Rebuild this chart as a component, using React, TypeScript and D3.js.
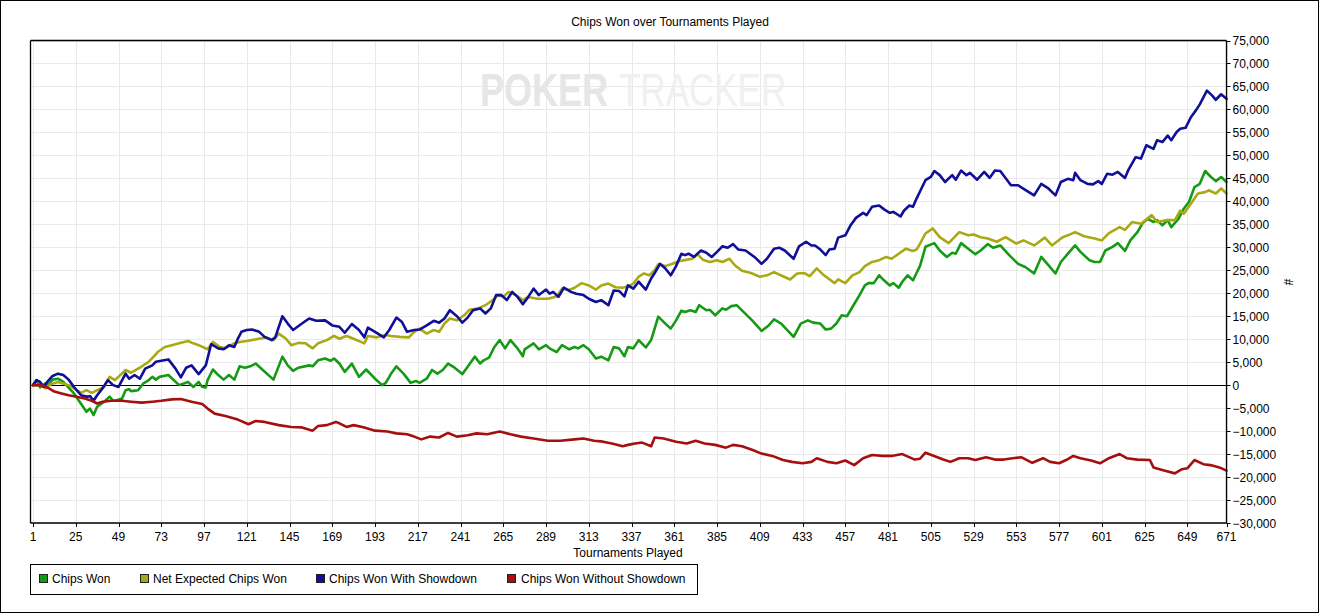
import React from "react";
import * as d3 from "d3";

type Pt = [number, number];

const seriesNames = ["Chips Won", "Net Expected Chips Won", "Chips Won With Showdown", "Chips Won Without Showdown"];
const seriesColors = ["#169a16", "#a9a915", "#0f0f99", "#a50f0f"];

const xTicks = [1, 25, 49, 73, 97, 121, 145, 169, 193, 217, 241, 265, 289, 313, 337, 361, 385, 409, 433, 457, 481, 505, 529, 553, 577, 601, 625, 649, 671];
const yTicks = d3.range(-30000, 75001, 5000);

const chipsWon: Pt[] = [
  [1,0],[3,1100],[5,-500],[8,400],[9,-200],[12,1200],[15,1400],[18,700],[24,-1800],[31,-5800],[33,-5100],[35,-6500],[37,-4700],[41,-3600],[44,-2500],[46,-3400],[48,-3300],[51,-2900],[53,-1100],[55,-900],[56,-1300],[60,-1100],[63,400],[66,1100],[68,1800],[70,1200],[72,1800],[77,2200],[83,0],[88,700],[91,-400],[94,700],[96,-400],[98,-500],[99,1100],[102,3400],[105,2200],[108,1200],[111,2200],[114,1200],[117,4100],[120,3800],[123,4100],[126,4700],[130,3300],[136,1200],[141,6200],[144,4300],[147,3100],[150,3800],[156,4300],[158,4100],[161,5400],
  [165,5800],[168,5300],[170,5800],[173,4700],[176,2900],[180,4700],[184,1800],[188,3400],[193,1400],[197,0],[199,500],[201,1800],[202,2500],[205,4100],[209,2500],[213,500],[216,900],[218,500],[222,1400],[225,3300],[228,2500],[231,3300],[234,4700],[237,4000],[242,2400],[245,4000],[249,6200],[252,4700],[254,5400],[257,6000],[260,8300],[263,9800],[266,8000],[269,9800],[273,8000],[276,6300],[277,7800],[282,9100],[285,7800],[289,8700],[291,8000],[295,7200],[298,8700],[302,7800],[305,8300],[307,8000],[310,8700],[313,7800],[317,5800],[320,6200],[324,5400],
  [327,8300],[330,8000],[333,6300],[335,8300],[338,8000],[341,9800],[345,8200],[348,9800],[352,14900],[356,13400],[359,12300],[362,14100],[365,16200],[367,15900],[370,16300],[373,15900],[375,17400],[379,16300],[381,16400],[384,15200],[388,16700],[390,16400],[393,17200],[396,17400],[400,15900],[405,14000],[410,11800],[414,13000],[417,14300],[421,13400],[428,10500],[432,13400],[436,14100],[439,13600],[443,13400],[446,12100],[449,12300],[452,13400],[455,15200],[458,15000],[461,17000],[465,19600],[468,21700],[470,22200],[473,22200],[476,23900],[479,22700],[482,21700],[484,22200],[487,21200],[489,22500],[492,23900],[495,22800],[497,24400],[499,26000],
  [502,30100],[507,30900],[510,29300],[514,27900],[517,28800],[519,28600],[522,30900],[526,29700],[530,28500],[533,29300],[537,30700],[540,29900],[544,30400],[549,28300],[554,26400],[558,25700],[563,24300],[567,27900],[571,26100],[575,24300],[578,26800],[582,28600],[586,30400],[589,29000],[594,27200],[597,26800],[600,26800],[603,29300],[607,30100],[610,30900],[614,29200],[617,31500],[621,33300],[624,35300],[627,36200],[630,35500],[632,35900],[635,34800],[638,35900],[640,34400],[644,36200],[647,38400],[650,39900],[653,43100],[656,43800],[659,46600],[662,45400],[665,44400],[668,45300],[671,44200],
];

const netExpected: Pt[] = [
  [1,0],[4,0],[5,400],[8,-700],[11,200],[15,700],[21,0],[24,-700],[28,-1700],[31,-1100],[34,-1700],[37,-1100],[41,-400],[44,1800],[47,1100],[53,3300],[56,2700],[61,3800],[66,5100],[69,6300],[71,7200],[75,8300],[79,8700],[83,9100],[88,9600],[91,9100],[94,8700],[99,7800],[102,9400],[106,8300],[109,8000],[114,9100],[117,9400],[121,9600],[128,10100],[132,10400],[136,9800],[139,11200],[143,10100],[146,8700],[150,9200],[154,9100],[158,8000],[161,9100],
  [166,9800],[170,10700],[173,10100],[177,10700],[181,10100],[187,9100],[189,10700],[194,10400],[199,10900],[202,10700],[207,10500],[212,10400],[215,11600],[218,12300],[222,11200],[226,12000],[229,11600],[232,13400],[235,14500],[239,14100],[243,15200],[246,16400],[251,16700],[255,17400],[260,18800],[262,19600],[265,19200],[268,20300],[272,19600],[276,18500],[279,19200],[284,18800],[290,18800],[295,19300],[298,21000],[302,20700],[305,21200],[309,22200],[313,21700],[317,20800],[320,21700],[324,22100],
  [328,21300],[332,21200],[335,21500],[338,22100],[341,23600],[344,24300],[347,23900],[350,25000],[352,26300],[356,25900],[360,26400],[364,27000],[367,27200],[371,27500],[374,28500],[377,27300],[381,26800],[385,27200],[388,26800],[392,27500],[395,26100],[399,24900],[404,24400],[409,23600],[413,23900],[417,24600],[422,23700],[426,23000],[430,24300],[434,24400],[437,23700],[441,25400],[445,23900],[451,22200],[453,23000],[457,22200],[461,23900],[465,24600],[468,25900],[472,26800],[476,27200],[480,27900],[483,27500],[487,28600],[491,29700],[495,29200],[497,29500],
  [499,30800],[502,33000],[506,34100],[510,32200],[515,30900],[521,33300],[526,32600],[529,32800],[533,32200],[537,31900],[542,31200],[547,32200],[553,30800],[557,31500],[563,30400],[569,32100],[573,30400],[579,32200],[582,32600],[586,33300],[591,32400],[597,31900],[601,31500],[605,33100],[611,34400],[614,33800],[618,35500],[623,35100],[629,37000],[632,35500],[637,35900],[642,35900],[645,38000],[647,37300],[651,39500],[655,41700],[659,42000],[661,42400],[665,41700],[668,42800],[671,41700],
];

const withShowdown: Pt[] = [
  [1,0],[3,1100],[5,700],[7,-400],[9,700],[12,2000],[15,2500],[18,2200],[21,1200],[24,-400],[28,-2200],[31,-2500],[33,-2400],[35,-3400],[37,-2200],[40,-700],[43,1100],[46,0],[49,-400],[53,2500],[55,1400],[58,2200],[61,1400],[64,3600],[68,4300],[70,5100],[73,5300],[77,5600],[81,3600],[84,1700],[87,3800],[90,4300],[94,2400],[98,4300],[101,8900],[105,8000],[108,7800],[111,8700],[114,8300],[116,10100],[118,11600],[121,12000],[124,12100],[128,11600],[131,10500],[135,9800],[137,10400],[141,15000],[144,13400],[147,12000],[152,13400],[156,14500],[160,14000],
  [165,14100],[169,13000],[173,12700],[176,11400],[180,13300],[184,12000],[187,10400],[189,12500],[193,11600],[198,10400],[201,12000],[205,14700],[208,13800],[211,11600],[215,12000],[218,12100],[222,13000],[226,14000],[229,13600],[232,14500],[235,16300],[239,15000],[242,13600],[245,14700],[248,16300],[252,16700],[255,15600],[258,16700],[261,19600],[264,19600],[267,18500],[270,20300],[273,19200],[276,17600],[279,19200],[282,21000],[285,19600],[289,20800],[291,19900],[293,20300],[296,19200],[299,21200],[303,20300],[306,19900],[310,19600],[313,18800],[317,18100],[320,18500],[324,17400],
  [327,20600],[330,20500],[333,19300],[335,21700],[338,21000],[341,22500],[345,20800],[348,23200],[350,24400],[353,26400],[356,25400],[359,23900],[362,25900],[365,28600],[367,28300],[369,28600],[372,27900],[376,29300],[379,28800],[382,27900],[385,29000],[388,30200],[391,29900],[394,30700],[397,29500],[401,29300],[406,27900],[410,26400],[413,27500],[417,29700],[420,29900],[423,29300],[428,27500],[431,30200],[435,31200],[438,30400],[440,30400],[443,29500],[446,28300],[448,29500],[451,29700],[453,32100],[457,32600],[460,34800],[463,36400],[467,37500],[469,37000],[472,38800],[476,39100],[479,38200],[482,37500],[484,37700],[488,36700],[490,38000],[493,39100],[495,38800],[497,40600],[499,42200],
  [502,44600],[505,45300],[507,46600],[510,45700],[513,44200],[517,45700],[519,44700],[522,46700],[525,45700],[527,46200],[531,44700],[535,46400],[538,45100],[541,46700],[544,46600],[550,43500],[554,43500],[558,42500],[563,41300],[567,43800],[571,42800],[575,41300],[578,44200],[582,44900],[585,44600],[586,46200],[589,44600],[593,43800],[596,43700],[599,44400],[601,43800],[604,46000],[607,45800],[610,46400],[614,45100],[616,46900],[620,49600],[623,49300],[626,52200],[630,51400],[632,53300],[635,52900],[638,54300],[640,53300],[643,55100],[645,55800],[648,56000],[651,58300],[654,59900],[656,61100],[660,64100],[663,63000],[665,62100],[668,63300],[671,62300],
];

const withoutShowdown: Pt[] = [
  [1,0],[6,0],[9,-500],[13,-1400],[17,-1800],[21,-2200],[24,-2400],[30,-2900],[34,-3400],[37,-4000],[40,-3600],[45,-3400],[51,-3400],[56,-3600],[62,-3800],[68,-3600],[73,-3400],[79,-3100],[84,-3000],[90,-3600],[96,-4100],[99,-5100],[103,-6200],[109,-6700],[116,-7500],[122,-8500],[126,-7800],[131,-8000],[139,-8700],[146,-9100],[152,-9200],[158,-9900],[161,-8900],
  [166,-8700],[171,-8000],[173,-8300],[177,-9100],[181,-8700],[187,-9200],[193,-9900],[200,-10100],[205,-10500],[211,-10700],[215,-11200],[219,-11800],[224,-11200],[229,-11400],[234,-10400],[239,-11200],[245,-10900],[250,-10500],[256,-10700],[263,-10100],[269,-10700],[275,-11200],[282,-11600],[290,-12100],[297,-12100],[305,-11800],[310,-11600],[316,-12100],[321,-12300],[326,-12700],
  [332,-13300],[335,-13000],[339,-12700],[343,-12500],[348,-13300],[350,-11400],[355,-11600],[362,-12300],[368,-12700],[373,-12100],[378,-12700],[384,-13000],[390,-13600],[394,-13000],[399,-13300],[405,-14100],[410,-14900],[416,-15400],[422,-16300],[427,-16700],[433,-17000],[438,-16700],[441,-15900],[447,-16700],[452,-17000],[457,-16400],[462,-17400],[467,-15900],[472,-15200],[478,-15400],[483,-15400],[489,-15000],[496,-16200],[499,-16000],[502,-14700],
  [508,-15600],[512,-16200],[516,-16700],[521,-15900],[526,-15900],[530,-16300],[536,-15700],[541,-16200],[546,-16200],[551,-15900],[556,-15700],[562,-16900],[568,-15900],[572,-16700],[577,-17000],[581,-16300],[585,-15400],[589,-15900],[595,-16400],[600,-17000],[605,-15900],[611,-15000],[615,-15900],[621,-16200],[628,-16300],[630,-17900],[636,-18600],[642,-19200],[646,-18300],[649,-18100],[653,-16300],[658,-17200],[662,-17400],[667,-17900],[671,-18600],
];

const allSeries = [chipsWon, netExpected, withShowdown, withoutShowdown];

const W = 1325;
const H = 614;
const plot = { left: 30.5, right: 1226.5, top: 40.5, bottom: 523 };
const FONT = "'Liberation Sans', Arial, sans-serif";

export default function App() {
  const x = d3.scaleLinear().domain([1, 671]).range([33, 1226.5]);
  const y = d3.scaleLinear().domain([-30000, 75000]).range([plot.bottom, plot.top]);
  const line = d3
    .line<Pt>()
    .x((d) => x(d[0]))
    .y((d) => y(d[1]));
  const fmt = d3.format(",");

  const legendItems = [
    { sq: 39.5, tx: 52 },
    { sq: 140.5, tx: 153 },
    { sq: 316.5, tx: 329 },
    { sq: 507.5, tx: 521 },
  ];

  return (
    <svg
      width={W}
      height={H}
      style={{ position: "absolute", left: 0, top: 0, background: "#fff" }}
      fontFamily={FONT}
    >
      <rect x={0} y={0} width={W} height={H} fill="#fff" />
      <rect x={0.5} y={0.5} width={1318} height={612} fill="none" stroke="#000" strokeWidth={1} />

      <text x={670} y={26} textAnchor="middle" fontSize={12} fill="#000">
        Chips Won over Tournaments Played
      </text>

      {/* grid */}
      <g stroke="#e9e9e9" strokeWidth={1}>
        {yTicks.map((t) => (
          <line key={"gy" + t} x1={plot.left} x2={plot.right} y1={Math.round(y(t)) + 0.5} y2={Math.round(y(t)) + 0.5} />
        ))}
        {xTicks.map((t) => (
          <line key={"gx" + t} x1={Math.round(x(t)) + 0.5} x2={Math.round(x(t)) + 0.5} y1={plot.top} y2={plot.bottom} />
        ))}
      </g>

      {/* watermark */}
      <g transform="translate(480,106) scale(1,1.28)">
        <text x={0} y={0} fontSize={36} fontWeight="bold" fill="#e6e6e6">POKER</text>
      </g>
      <g transform="translate(619,106) scale(1,1.3)">
        <text x={0} y={0} fontSize={35} fill="#f0f0f0">TRACKER</text>
      </g>

      {/* zero line */}
      <line x1={plot.left} x2={plot.right} y1={Math.round(y(0)) + 0.5} y2={Math.round(y(0)) + 0.5} stroke="#000" strokeWidth={1} />

      {/* series */}
      {allSeries.map((s, i) => (
        <path
          key={"s" + i}
          d={line(s) || ""}
          fill="none"
          stroke={seriesColors[i]}
          strokeWidth={2.6}
          strokeLinejoin="round"
          strokeLinecap="round"
        />
      ))}

      {/* frame */}
      <line x1={plot.left} x2={plot.right} y1={plot.top} y2={plot.top} stroke="#000" strokeWidth={1.3} />
      <line x1={plot.left} x2={plot.left} y1={plot.top} y2={plot.bottom} stroke="#000" strokeWidth={1.3} />
      <line x1={plot.right} x2={plot.right} y1={plot.top} y2={plot.bottom + 0.5} stroke="#000" strokeWidth={1.3} />
      <line x1={plot.left} x2={plot.right} y1={plot.bottom} y2={plot.bottom} stroke="#000" strokeWidth={1.3} />

      {/* y axis (right) */}
      {yTicks.map((t) => (
        <g key={"yt" + t}>
          <line x1={plot.right} x2={plot.right + 4} y1={Math.round(y(t)) + 0.5} y2={Math.round(y(t)) + 0.5} stroke="#000" />
          <text x={plot.right + 6} y={y(t) + 4.5} fontSize={12} fill="#000">
            {fmt(t)}
          </text>
        </g>
      ))}
      <text x={1288} y={282} fontSize={12} fill="#000" textAnchor="middle" transform="rotate(90 1288 282)" dy={4}>
        #
      </text>

      {/* x axis */}
      {xTicks.map((t) => (
        <g key={"xt" + t}>
          <line x1={Math.round(x(t)) + 0.5} x2={Math.round(x(t)) + 0.5} y1={plot.bottom} y2={plot.bottom + 4} stroke="#000" />
          <text x={x(t)} y={541} fontSize={12} textAnchor="middle" fill="#000">
            {t}
          </text>
        </g>
      ))}
      <text x={628} y={557} fontSize={12} textAnchor="middle" fill="#000">
        Tournaments Played
      </text>

      {/* legend */}
      <rect x={30.5} y={564.5} width={667} height={30} fill="#fff" stroke="#000" strokeWidth={1} />
      {seriesNames.map((n, i) => (
        <g key={"lg" + i}>
          <rect x={legendItems[i].sq} y={574.5} width={8} height={8} fill={seriesColors[i]} stroke="#222" strokeWidth={1} />
          <text x={legendItems[i].tx} y={583} fontSize={12} fill="#000">
            {n}
          </text>
        </g>
      ))}
    </svg>
  );
}
